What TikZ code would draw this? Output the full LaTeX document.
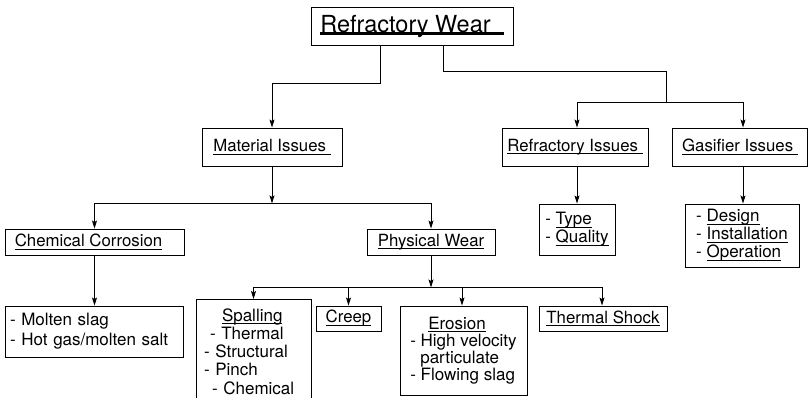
\documentclass[tikz,border=0pt]{standalone}
\usepackage{fontspec}
\setmainfont{TeX Gyre Heros}
\usetikzlibrary{arrows.meta}
\newsavebox\mybox
\newcommand\ul[2][1pt]{\sbox\mybox{#2}\rlap{\rule[-3pt]{\wd\mybox}{#1}}\usebox\mybox}
\begin{document}
\begin{tikzpicture}[x=1pt,y=-1pt,
  >={Stealth[length=8pt,width=5pt,inset=1.5pt]}, line width=0.8pt,
  box/.style={draw, line width=0.9pt, inner sep=0pt, font=\fontsize{16.8}{18}\selectfont},
  lst/.style={box, align=left, font=\fontsize{17}{18}\selectfont}]
\useasboundingbox (0,0) rectangle (809,398);

\node[box, minimum width=202pt, minimum height=38pt, font=\fontsize{23.5}{26}\selectfont] (top) at (412,26) {\ul[2.6pt]{Refractory Wear\ \ }};

\node[box, minimum width=140pt, minimum height=38pt] (mat) at (272,147) {\ul{Material Issues\ }};
\node[box, minimum width=146pt, minimum height=38pt] (ref) at (575,147) {\ul{Refractory Issues\ }};
\node[box, minimum width=135pt, minimum height=38pt] (gas) at (740,147) {\ul{Gasifier Issues\ }};

\node[lst, minimum width=76pt, minimum height=51pt] (type) at (577,229.5) {- \ul{Type}\\- \ul{Quality}};
\node[lst, minimum width=114pt, minimum height=63pt] (design) at (742,235.5) {- \ul{Design}\\- \ul{Installation}\\- \ul{Operation}};

\node[box, minimum width=179pt, minimum height=26pt] (chem) at (94.5,242) {\ul{Chemical Corrosion}\hspace*{12pt}};
\node[box, minimum width=128pt, minimum height=26pt] (phys) at (431,242) {\ul{Physical Wear}};

\node[lst, text width=168pt, inner xsep=5pt, minimum height=51pt, font=\fontsize{17}{20}\selectfont] (molten) at (94,331.5) {- Molten slag\\- Hot gas/molten salt};

\node[lst, anchor=north, text width=99pt, inner xsep=8pt, minimum height=104pt, font=\fontsize{17}{18.3}\selectfont] (spal) at (253.5,299) {\hspace*{18pt}\ul{Spalling}\\\hspace*{6pt}- Thermal\\- Structural\\- Pinch\\\hspace*{8pt}- Chemical};
\node[box, minimum width=65pt, minimum height=25pt] (creep) at (348.5,318.5) {\ul{Creep}};
\node[lst, minimum width=127pt, minimum height=89pt, font=\fontsize{17}{17}\selectfont] (eros) at (463.5,350.5) {\hspace*{18pt}\ul{Erosion}\\- High velocity\\\hspace*{10pt}particulate\\- Flowing slag};
\node[box, minimum width=128pt, minimum height=25pt] (shock) at (603,318.5) {\ul{Thermal Shock}};

% connectors
\draw[->] ([xshift=-32pt]top.south) -- ++(0,38) -| (mat.north);
\draw ([xshift=31pt]top.south) -- ++(0,26) -| (666,102) coordinate (rb);
\draw[->] (rb) -| ([xshift=2pt]ref.north);
\draw[->] (rb) -| ([xshift=3pt]gas.north);
\draw[->] ([xshift=2pt]ref.south) -- ([xshift=2pt]ref.south |- type.north);
\draw[->] ([xshift=3pt]gas.south) -- ([xshift=3pt]gas.south |- design.north);

\draw[->] (mat.south) -- ++(0,37) coordinate (mb);
\draw[->] (mb) -| (chem.north);
\draw[->] (mb) -| (phys.north);
\draw[->] (chem.south) -- (chem.south |- molten.north);

\draw[->] (phys.south) -- ++(0,32) coordinate (pb);
\draw[->] (pb) -| (spal.north);
\draw[->] (pb) -| (creep.north);
\draw[->] (pb) -| ([xshift=-1.5pt]eros.north);
\draw[->] (pb) -| ([xshift=-1pt]shock.north);
\end{tikzpicture}
\end{document}
